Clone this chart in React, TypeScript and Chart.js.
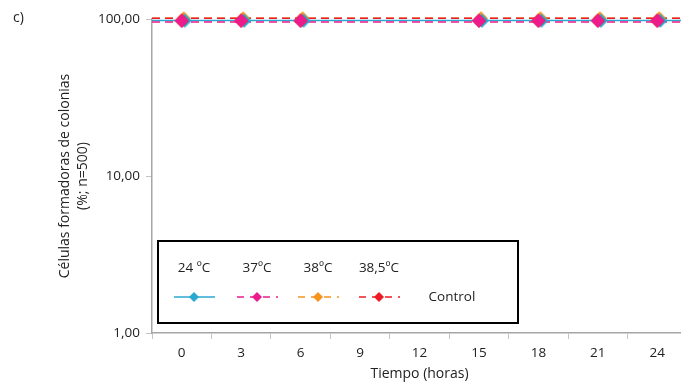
import React, { useEffect, useRef } from "react";
import { Chart, registerables } from "chart.js";

Chart.register(...registerables);

const categories = ["0", "3", "6", "9", "12", "15", "18", "21", "24"];
const seriesNames = ["24 ºC", "37ºC", "38ºC", "38,5ºC"];
const s24 = [97.5, 97.5, 97.5, null, null, 97.5, 97.5, 97.5, 97.5];
const s37 = [97.5, 97.5, 97.5, null, null, 97.5, 97.5, 97.5, 97.5];
const s38 = [101, 101, 101, null, null, 101, 101, 101, 101];
const s385 = [97.5, 97.5, 97.5, null, null, 97.5, 97.5, 97.5, 97.5];
// horizontal control levels drawn across the plot (one per series)
const controlLevels = [97.8, 95.7, 101, 101];
const yTicks = [1, 10, 100];
const colors = ["#29a9cf", "#ec1c8c", "#f7941d", "#ed1c24"];
const dashes = [[], [8, 5], [8, 5], [8, 5]];
// small horizontal shift of each marker glyph (style only, overlapping markers)
const markerShift = [3, 0, 2, 0];

const FONT = "'Open Sans', 'Noto Sans', sans-serif";

function makeMarker(color: string, shift: number) {
  const c = document.createElement("canvas");
  const size = 24;
  c.width = size;
  c.height = size;
  const g = c.getContext("2d")!;
  const cx = size / 2 + shift;
  const cy = size / 2;
  const r = 7;
  g.fillStyle = color;
  g.beginPath();
  g.moveTo(cx, cy - r);
  g.lineTo(cx + r, cy);
  g.lineTo(cx, cy + r);
  g.lineTo(cx - r, cy);
  g.closePath();
  g.fill();
  return c;
}

const extrasPlugin = {
  id: "extras",
  beforeDatasetsDraw(chart: any) {
    const { ctx, chartArea, scales } = chart;
    const y = scales.y;
    const order = [2, 0, 1, 3];
    ctx.save();
    for (const i of order) {
      const py = y.getPixelForValue(controlLevels[i]);
      ctx.beginPath();
      ctx.strokeStyle = colors[i];
      ctx.lineWidth = 1.5;
      ctx.setLineDash(dashes[i]);
      ctx.moveTo(chartArea.left, py);
      ctx.lineTo(chartArea.right, py);
      ctx.stroke();
    }
    ctx.restore();
  },
  afterDraw(chart: any) {
    const { ctx } = chart;
    ctx.save();
    ctx.fillStyle = "#222";
    ctx.font = `14px ${FONT}`;
    ctx.textBaseline = "middle";
    ctx.textAlign = "left";
    ctx.fillText("c)", 13, 18);
    const bx = 158, by = 241, bw = 360, bh = 82;
    ctx.fillStyle = "#fff";
    ctx.fillRect(bx, by, bw, bh);
    ctx.strokeStyle = "#000";
    ctx.lineWidth = 2;
    ctx.strokeRect(bx, by, bw, bh);
    const centers = [194, 257, 318, 379];
    ctx.font = `13.5px ${FONT}`;
    ctx.textAlign = "center";
    seriesNames.forEach((n, i) => {
      ctx.fillStyle = "#222";
      ctx.fillText(n, centers[i], 268);
      const cx = centers[i];
      const ly = 297;
      ctx.beginPath();
      ctx.strokeStyle = colors[i];
      ctx.lineWidth = 1.3;
      ctx.setLineDash(i === 0 ? [] : [7, 6]);
      ctx.moveTo(cx - 20, ly);
      ctx.lineTo(cx + 21, ly);
      ctx.stroke();
      ctx.setLineDash([]);
      ctx.beginPath();
      ctx.fillStyle = colors[i];
      const r = 5;
      ctx.moveTo(cx, ly - r);
      ctx.lineTo(cx + r, ly);
      ctx.lineTo(cx, ly + r);
      ctx.lineTo(cx - r, ly);
      ctx.closePath();
      ctx.fill();
    });
    ctx.fillStyle = "#222";
    ctx.fillText("Control", 452, 297);
    ctx.restore();
  },
};

export default function App() {
  const ref = useRef<HTMLCanvasElement>(null);
  useEffect(() => {
    if (!ref.current) return;
    const series = [s24, s37, s38, s385];
    const drawOrder = [2, 0, 3, 1];
    const chart = new Chart(ref.current, {
      type: "line",
      data: {
        labels: categories,
        datasets: series.map((d, i) => ({
          label: seriesNames[i],
          data: d,
          showLine: false,
          pointStyle: makeMarker(colors[i], markerShift[i]) as any,
          pointRadius: 7,
          pointBackgroundColor: colors[i],
          pointBorderColor: colors[i],
          pointBorderWidth: 0,
          borderColor: colors[i],
          backgroundColor: colors[i],
          order: drawOrder[i],
          clip: false as any,
        })),
      },
      options: {
        responsive: false,
        animation: false,
        layout: { padding: { top: 19, right: 13, left: 0, bottom: 0 } },
        plugins: { legend: { display: false }, tooltip: { enabled: false } },
        scales: {
          x: {
            type: "category",
            offset: true,
            grid: {
              offset: true,
              drawOnChartArea: false,
              drawTicks: true,
              tickLength: 6,
              color: "#c4c4c4",
            },
            border: { display: true, color: "#a6a6a6", width: 1.5 },
            ticks: { color: "#222", font: { family: FONT, size: 13.5 }, padding: 6, maxRotation: 0 },
            title: {
              display: true,
              text: "Tiempo (horas)",
              color: "#222",
              font: { family: FONT, size: 14 },
              padding: { top: 0, bottom: 3 },
            },
            afterFit(scale: any) {
              scale.height = 52;
            },
          },
          y: {
            type: "logarithmic",
            min: 1,
            max: 100,
            grid: {
              drawOnChartArea: false,
              drawTicks: true,
              tickLength: 6,
              color: "#c4c4c4",
            },
            border: { display: true, color: "#a6a6a6", width: 1.5 },
            afterBuildTicks(scale: any) {
              scale.ticks = yTicks.map((v) => ({ value: v }));
            },
            ticks: {
              color: "#222",
              font: { family: FONT, size: 13.5 },
              padding: 6,
              callback: (v: any) => Number(v).toFixed(2).replace(".", ","),
            },
            title: {
              display: true,
              text: ["Células formadoras de colonias", "(%; n=500)"],
              color: "#222",
              font: { family: FONT, size: 14, lineHeight: 1.3 },
              padding: { top: 56, bottom: 0 },
            },
            afterFit(scale: any) {
              scale.width = 152;
            },
          },
        },
      },
      plugins: [extrasPlugin],
    });
    return () => chart.destroy();
  }, []);
  return (
    <div style={{ position: "fixed", left: 0, top: 0, width: 681, height: 385, overflow: "hidden", background: "#fff" }}>
      <canvas ref={ref} width={700} height={385} style={{ display: "block" }} />
    </div>
  );
}
